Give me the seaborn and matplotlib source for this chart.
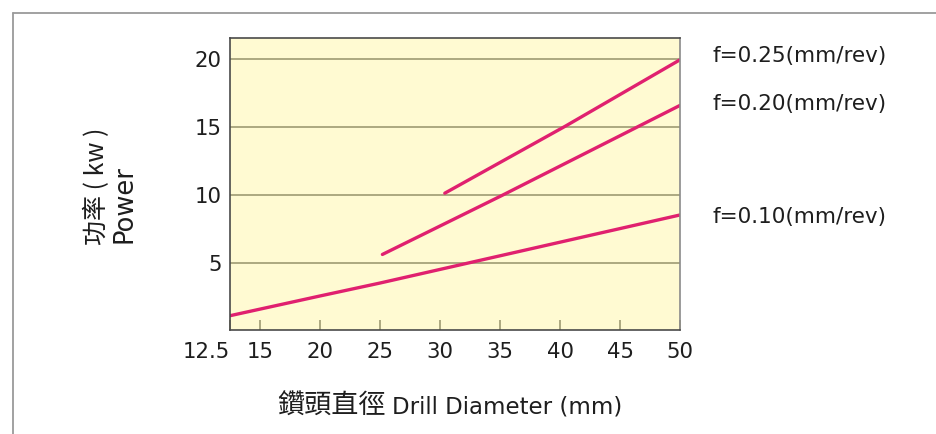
import matplotlib
matplotlib.use("Agg")
import matplotlib.pyplot as plt
from matplotlib.lines import Line2D
import seaborn as sns
import pandas as pd

# Drill power vs. drill diameter for three feed rates
feed_labels = ["f=0.25(mm/rev)", "f=0.20(mm/rev)", "f=0.10(mm/rev)"]

dia_f025 = [30.4, 40.5, 50.0]
kw_f025 = [10.15, 15.1, 19.95]

dia_f020 = [25.2, 35.2, 50.0]
kw_f020 = [5.65, 10.0, 16.6]

dia_f010 = [12.5, 20, 25, 30, 35, 40, 45, 50]
kw_f010 = [1.15, 2.6, 3.55, 4.55, 5.55, 6.55, 7.55, 8.55]

x_ticks = [12.5, 15, 20, 25, 30, 35, 40, 45, 50]
x_tick_labels = ["12.5", "15", "20", "25", "30", "35", "40", "45", "50"]
y_ticks = [5, 10, 15, 20]

frames = []
for lab, xs, ys in zip(feed_labels,
                       [dia_f025, dia_f020, dia_f010],
                       [kw_f025, kw_f020, kw_f010]):
    frames.append(pd.DataFrame({"diameter": xs, "power": ys, "feed": lab}))
df = pd.concat(frames, ignore_index=True)

sns.set_theme(style="white")
plt.rcParams["font.family"] = ["DejaVu Sans", "Noto Sans CJK TC"]

line_color = "#E0206F"
grid_color = "#9E9A72"
spine_color = "#4A4A4A"
text_color = "#1E1E1E"
cjk = ["Noto Sans CJK TC", "DejaVu Sans"]

fig = plt.figure(figsize=(9.37, 4.34), dpi=100)
ax = fig.add_axes([230 / 937, 1 - 330 / 434, 450 / 937, 292 / 434])
ax.set_facecolor("#FFFAD2")

sns.lineplot(data=df, x="diameter", y="power", hue="feed",
             palette=[line_color] * 3, legend=False, sort=False,
             estimator=None, linewidth=2.4, ax=ax)

ax.set_xlim(12.5, 50)
ax.set_ylim(0.1, 21.55)

ax.set_yticks(y_ticks)
ax.set_yticklabels([str(v) for v in y_ticks])
ax.set_xticks(x_ticks)
ax.set_xticklabels(x_tick_labels)
first = ax.xaxis.get_majorticklabels()[0]
first.set_horizontalalignment("right")

for v in y_ticks:
    ax.axhline(v, color=grid_color, linewidth=1.2, zorder=1)

ax.tick_params(axis="x", direction="in", length=7, width=1.2,
               color=grid_color, labelsize=15.3, pad=9, labelcolor=text_color,
               bottom=True)
ax.tick_params(axis="y", length=0, labelsize=15.3, pad=6, labelcolor=text_color)

for side in ["top", "left", "bottom"]:
    ax.spines[side].set_color(spine_color)
    ax.spines[side].set_linewidth(1.2)
ax.spines["right"].set_color("#8A8A8A")
ax.spines["right"].set_linewidth(1.2)

ax.set_xlabel("")
ax.set_ylabel("")

# Feed-rate labels to the right of each curve end
label_baselines = [62, 110, 223]
for lab, py in zip(feed_labels, label_baselines):
    fig.text(713 / 937, 1 - py / 434, lab, fontsize=15.5, color=text_color,
             ha="left", va="baseline")

# x-axis title: Chinese part and English part
fig.text(386 / 937, 1 - 414 / 434, "鑽頭直徑", family=cjk, fontsize=19.5,
         color=text_color, ha="right", va="baseline")
fig.text(392 / 937, 1 - 413 / 434, "Drill Diameter (mm)", fontsize=16.5,
         color=text_color, ha="left", va="baseline")

# y-axis title on two lines
fig.text(97 / 937, 1 - 245 / 434, "功率 ( kw )", family=cjk, fontsize=18,
         color=text_color, ha="center", va="bottom", rotation=90)
fig.text(125 / 937, 1 - 243 / 434, "Power", fontsize=18.5,
         color=text_color, ha="center", va="bottom", rotation=90)

# Outer page frame (top and left edges)
fx = 13 / 937
fy = 1 - 13 / 434
fig.add_artist(Line2D([fx, 1], [fy, fy], transform=fig.transFigure,
                      color="#9A9A9A", linewidth=1.3))
fig.add_artist(Line2D([fx, fx], [0, fy], transform=fig.transFigure,
                      color="#9A9A9A", linewidth=1.3))

fig.savefig("out.png", dpi=100, facecolor="white")
